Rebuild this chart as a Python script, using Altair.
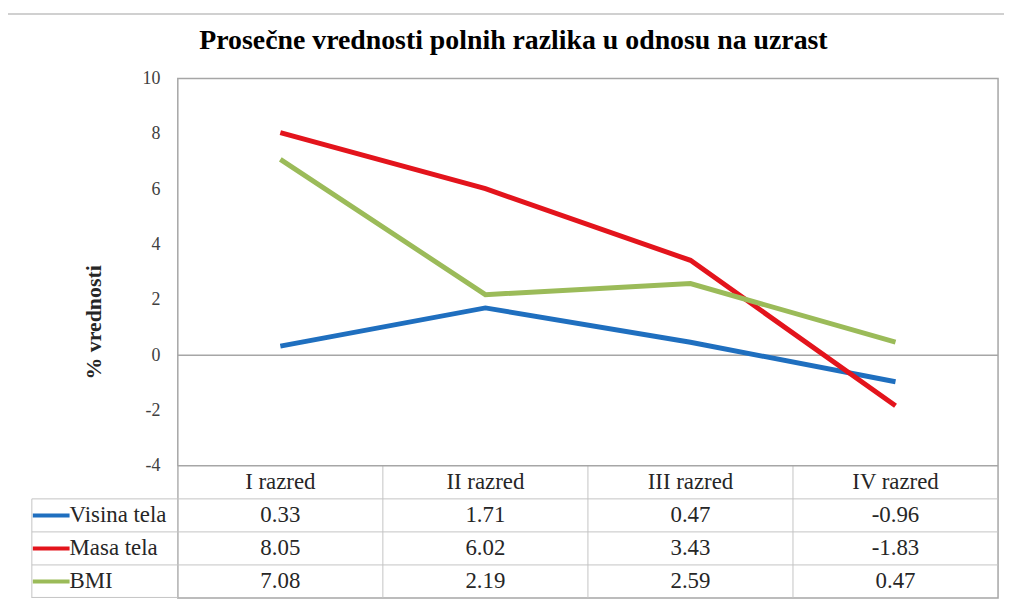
import altair as alt
import pandas as pd

categories = ["I razred", "II razred", "III razred", "IV razred"]
series = ["Visina tela", "Masa tela", "BMI"]
visina = [0.33, 1.71, 0.47, -0.96]
masa = [8.05, 6.02, 3.43, -1.83]
bmi = [7.08, 2.19, 2.59, 0.47]
colors = ["#1f6fbf", "#e3141c", "#9bbb59"]
y_ticks = [-4, -2, 0, 2, 4, 6, 8, 10]
title = "Prosečne vrednosti polnih razlika u odnosu na uzrast"
y_title = "% vrednosti"

rows = ["header"] + series

records = []
for s, vals in zip(series, [visina, masa, bmi]):
    for c, v in zip(categories, vals):
        records.append({"series": s, "cat": c, "value": v, "label": f"{v:.2f}", "row": s})
df = pd.DataFrame(records)
hdr = pd.DataFrame({"cat": categories, "row": ["header"] * len(categories)})
ser = pd.DataFrame({"series": series, "row": series})
one = pd.DataFrame({"z": [0]})

W, H = 826, 523
PH = 390
FONT = "Liberation Serif"
GRID = "#c4c4c4"
TXT = "#262626"
TFS = 23

xs = alt.Scale(type="band", domain=categories, paddingInner=0, paddingOuter=0)
color_scale = alt.Scale(domain=series, range=colors)
yline = alt.Scale(domain=[-4, 10], range=[PH, 0], nice=False, zero=False)
yrow = alt.Scale(type="band", domain=rows, range=[PH, H], paddingInner=0, paddingOuter=0)

yaxis = alt.Axis(values=y_ticks, grid=False, domain=False, ticks=False, labelPadding=18,
                 labelFont=FONT, labelFontSize=18, labelColor="#404040",
                 labelExpr="datum.value + ''",
                 title=y_title, titleFont=FONT, titleFontSize=22, titleFontWeight="bold",
                 titleColor="#262626", titleAngle=-90, titleBaseline="alphabetic",
                 titleX=-78, titleY=245, titleAlign="center")

zero = alt.Chart(one).mark_rule(color="#a6a6a6", strokeWidth=1.5).encode(
    y=alt.Y("z:Q", scale=yline, axis=yaxis), x=alt.value(0), x2=alt.value(W))

lines = alt.Chart(df).mark_line(strokeWidth=5).encode(
    x=alt.X("cat:N", scale=xs, bandPosition=0.5, axis=None),
    y=alt.Y("value:Q", scale=yline, axis=yaxis),
    color=alt.Color("series:N", scale=color_scale, legend=None),
)

plot = alt.layer(zero, lines)

hdr_text = alt.Chart(hdr).mark_text(font=FONT, fontSize=TFS, color=TXT).encode(
    x=alt.X("cat:N", scale=xs, bandPosition=0.5, axis=None),
    y=alt.Y("row:N", scale=yrow, bandPosition=0.5, axis=None),
    text="cat:N")

val_text = alt.Chart(df).mark_text(font=FONT, fontSize=TFS, color=TXT).encode(
    x=alt.X("cat:N", scale=xs, bandPosition=0.5, axis=None),
    y=alt.Y("row:N", scale=yrow, bandPosition=0.5, axis=None),
    text="label:N")

vlines = alt.Chart(hdr).mark_rule(color=GRID, strokeWidth=1).encode(
    x=alt.X("cat:N", scale=xs, bandPosition=0, axis=None),
    y=alt.value(PH), y2=alt.value(H))

hlines = alt.Chart(ser).mark_rule(color=GRID, strokeWidth=1).encode(
    y=alt.Y("row:N", scale=yrow, bandPosition=0, axis=None),
    x=alt.value(-147), x2=alt.value(W))

plot_bottom = alt.Chart(one).mark_rule(color="#a6a6a6", strokeWidth=1.5).encode(
    y=alt.value(PH), x=alt.value(0), x2=alt.value(W))

left_line = alt.Chart(one).mark_rule(color=GRID, strokeWidth=1).encode(
    x=alt.value(-147), y=alt.value(PH + (H - PH) / 4), y2=alt.value(H))
left_bottom = alt.Chart(one).mark_rule(color=GRID, strokeWidth=1).encode(
    x=alt.value(-147), x2=alt.value(0), y=alt.value(H - 0.5))

keys = alt.Chart(ser).mark_rule(strokeWidth=4).encode(
    y=alt.Y("row:N", scale=yrow, bandPosition=0.5, axis=None),
    x=alt.value(-146), x2=alt.value(-109),
    color=alt.Color("series:N", scale=color_scale, legend=None))

labels = alt.Chart(ser).mark_text(font=FONT, fontSize=TFS, color=TXT, align="left").encode(
    y=alt.Y("row:N", scale=yrow, bandPosition=0.5, axis=None),
    x=alt.value(-109), text="series:N")

frame_top = alt.Chart(one).mark_rule(color="#d0d0d0", strokeWidth=2).encode(
    x=alt.value(-172), x2=alt.value(W + 8), y=alt.value(-65))
frame_left = alt.Chart(one).mark_rule(color="#d0d0d0", strokeWidth=2).encode(
    x=alt.value(-172), y=alt.value(-65), y2=alt.value(H + 4))

table = alt.layer(vlines, hlines, left_line, left_bottom, plot_bottom, keys, labels,
                  hdr_text, val_text, frame_top, frame_left)

chart = alt.layer(plot, table).resolve_scale(y="independent").properties(
    width=W, height=H,
    autosize=alt.AutoSizeParams(type="none"),
    padding={"left": 171, "top": 69, "right": 6, "bottom": 2},
    title=alt.TitleParams(title, font=FONT, fontSize=28, fontWeight="bold", color="black",
                          anchor="middle", frame="group", dx=-75, dy=42, offset=0),
).configure_view(stroke="#a6a6a6", strokeWidth=1.5)

chart.save("out.html", embed_options={"renderer": "svg", "actions": False})
